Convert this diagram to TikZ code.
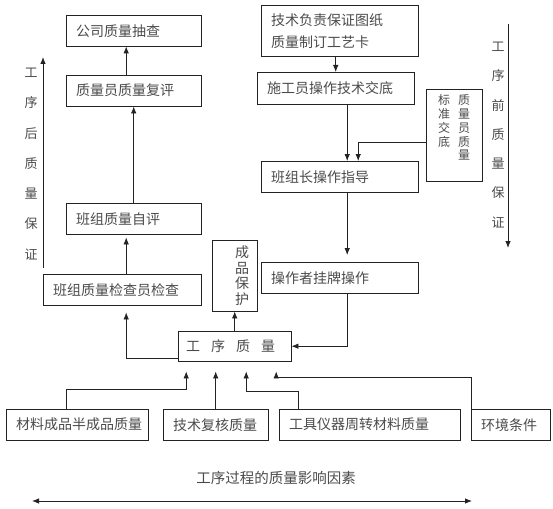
\documentclass[tikz,border=0pt]{standalone}
\usepackage{fontspec}
\usepackage{xcolor}
\usepackage{tikz}
\usetikzlibrary{arrows.meta, calc}
\newfontfamily\zhfont{Noto Sans CJK SC}
\definecolor{ink}{RGB}{35,35,35}
\definecolor{txt}{RGB}{75,75,75}
\tikzset{
  blk/.style  ={rectangle, draw=ink, anchor=north west, align=left, inner xsep=10pt,
                inner ysep=0pt, text=txt, font=\zhfont\fontsize{14}{22}\selectfont},
  blkv/.style ={blk, align=right, inner xsep=8pt},
  side/.style ={align=center, text=txt, inner sep=0pt},
  ar/.style   ={-{Latex[length=7pt,width=5.5pt]}, draw=ink, line width=0.8pt},
  arr/.style  ={{Latex[length=7pt,width=5.5pt]}-{Latex[length=7pt,width=5.5pt]}, draw=ink, line width=0.8pt},
}
\begin{document}
\begin{tikzpicture}[x=1pt, y=-1pt]
\useasboundingbox (0,0) rectangle (553,508);
% left column: after the process
\node[blk, text width=115pt, minimum height=31pt] (gs) at (66,15)  {公司质量抽查};
\node[blk, text width=115pt, minimum height=31pt] (fp) at (66,75)  {质量员质量复评};
\node[blk, text width=115pt, minimum height=31pt] (zp) at (66,203) {班组质量自评};
\node[blk, text width=138pt, minimum height=31pt] (jc) at (43,274) {班组质量检查员检查};
\node[blkv, text width=29pt, minimum height=71pt, font=\zhfont\fontsize{14}{15.7}\selectfont] (cp) at (212,240) {成\\品\\保\\护};
\node[blk, text width=97pt, minimum height=30pt, inner xsep=8pt] (gx) at (178,331) {工\hspace{11pt}序\hspace{11pt}质\hspace{11pt}量};
% right column: before the process
\node[blk, text width=137pt, minimum height=51pt] (js) at (261,5)   {技术负责保证图纸\\质量制订工艺卡};
\node[blk, text width=137pt, minimum height=32pt] (sg) at (257,72)  {施工员操作技术交底};
\node[blk, text width=137pt, minimum height=31pt] (bz) at (261,161) {班组长操作指导};
\node[blk, text width=137pt, minimum height=31pt] (cz) at (261,262) {操作者挂牌操作};
\node[blk, text width=56pt, minimum height=92pt, inner xsep=0pt, align=center,
      font=\zhfont\fontsize{12}{12.5}\selectfont] (bj) at (426,89)
  {\begin{tabular}{@{}c@{\hspace{8pt}}c@{}}标&质\\准&量\\交&员\\底&质\\&量\\&\end{tabular}};
% influencing factors
\node[blk, text width=122pt, minimum height=31pt] (cl) at (6,409)   {材料成品半成品质量};
\node[blk, text width=85pt,  minimum height=31pt] (fh) at (163,409) {技术复核质量};
\node[blk, text width=161pt, minimum height=31pt] (gj) at (279,409) {工具仪器周转材料质量};
\node[blk, text width=59pt,  minimum height=31pt] (hj) at (471,409) {环境条件};
\node[side, font=\zhfont\fontsize{14.5}{17}\selectfont] (cap) at (276,478) {工序过程的质量影响因素};
% side labels
\node[side, font=\zhfont\fontsize{13}{30.3}\selectfont] (hz) at (31,164) {工\\序\\后\\质\\量\\保\\证};
\node[side, font=\zhfont\fontsize{13}{29.3}\selectfont] (qz) at (498,135) {工\\序\\前\\质\\量\\保\\证};
\coordinate (lb) at (43,268); \coordinate (lt) at (43,57);
\coordinate (rt) at (508,24); \coordinate (rb) at (508,248);
\coordinate (dl) at (32,501); \coordinate (dr) at (472,501);
\draw[ar] (lb)--(lt); \draw[ar] (rt)--(rb); \draw[arr] (dl)--(dr);
% arrows
\draw[ar] ([xshift=-7.5pt]fp.north)--([xshift=-7.5pt]gs.south);
\draw[ar] (zp.north)--(fp.south);
\draw[ar, shorten >=3pt] ([xshift=4pt]jc.north)--([xshift=-7.5pt]zp.south);
\draw[ar, shorten >=7pt] ([yshift=-12pt]gx.west) -| ([xshift=4pt]jc.south);
\draw[ar] (gx.north)--(cp.south);
\draw[ar] ([xshift=7.5pt]cz.south) |- (gx.east);
\draw[ar] (js.south -| sg.north)--(sg.north);
\draw[ar] ([xshift=11.5pt]sg.south)--([xshift=7.5pt]bz.north);
\draw[ar] ([yshift=-7pt]bj.west) -| ([xshift=18.5pt]bz.north);
\draw[ar, shorten >=7pt] ([xshift=7.5pt]bz.south)--([xshift=7.5pt]cz.north);
\draw[ar, shorten >=10pt] ([xshift=-11pt]cl.north) -- ++(0,-20) -| ([xshift=-48.5pt]gx.south);
\draw[ar, shorten >=10pt] (fh.north)--(fh.north |- gx.south);
\draw[ar, shorten >=10pt] ([xshift=-71.5pt]gj.north) -- ++(0,-18) -| ([xshift=11.5pt]gx.south);
\draw[ar, shorten >=10pt] (hj.north west) -- ++(0,-32) -| ([xshift=41.5pt]gx.south);
\end{tikzpicture}
\end{document}
